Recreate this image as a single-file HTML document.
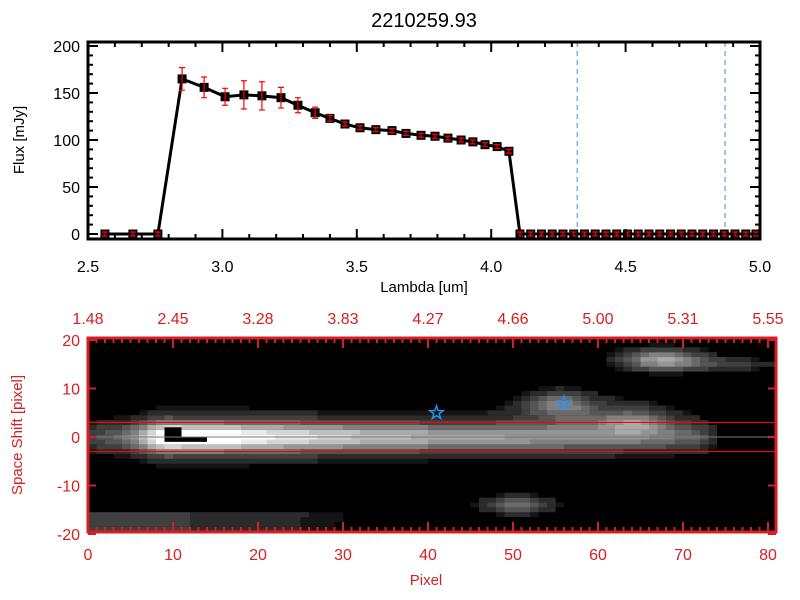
<!DOCTYPE html>
<html><head><meta charset="utf-8"><style>
html,body{margin:0;padding:0;background:#fff;width:800px;height:600px;overflow:hidden}
svg text{font-family:"Liberation Sans",sans-serif}
</style></head><body>
<svg id="c" width="800" height="600" xmlns="http://www.w3.org/2000/svg"></svg>
<script>
const lambdas=[2.563,2.667,2.760,2.850,2.932,3.010,3.080,3.147,3.218,3.281,3.345,3.400,3.456,3.512,3.571,3.631,3.683,3.739,3.791,3.839,3.888,3.932,3.977,4.022,4.066,
4.107,4.147,4.187,4.227,4.267,4.307,4.347,4.387,4.427,4.467,4.507,4.547,4.587,4.627,4.667,4.707,4.747,4.787,4.827,4.867,4.907,4.947,4.985];
const fluxes=[0,0,0,165,156,146,148,147,145,137,129,123,117,113,111,110,107,105,104,102,100,98,95,93,88,
0,0,0,0,0,0,0,0,0,0,0,0,0,0,0,0,0,0,0,0,0,0,0];
const errors=[0,0,0,12,11,9,15,15,11,8,6,3,2,2,2,2,2,2,2,2,2,2,2,2,2,0,0,0,0,0,0,0,0,0,0,0,0,0,0,0,0,0,0,0,0,0,0,0];
const xTicks=[2.5,3.0,3.5,4.0,4.5,5.0];
const xTickLabels=["2.5","3.0","3.5","4.0","4.5","5.0"];
const yTicks=[0,50,100,150,200];
const markLines=[4.32,4.87];
const pixTicks=[0,10,20,30,40,50,60,70,80];
const lamTopLabels=["1.48","2.45","3.28","3.83","4.27","4.66","5.00","5.31","5.55"];
const shiftTicks=[-20,-10,0,10,20];
const stars=[[41,5],[56,7]];
const blobs=[[50,-14,3,1.3,0.45],[67,16,3.5,1.6,0.62],[75,15,5,1,0.22],[55,7,2.5,1.8,0.38],[64,3,3,1.8,0.35],[58,5,6,2.5,0.18]];
const traceLevels=[[0,0.2],[5,0.4],[9,1.0],[14,0.95],[22,0.78],[35,0.6],[50,0.5],[62,0.42],[72,0.3],[75,0.0]];

const svg=document.getElementById('c');const NS='http://www.w3.org/2000/svg';
function mk(t,a,p){const e=document.createElementNS(NS,t);for(const k in a)e.setAttribute(k,a[k]);(p||svg).appendChild(e);return e;}
const L=88,R=760,T=42,B=239;
const X=v=>L+(v-2.5)/2.5*(R-L);
const Y=v=>234-v*0.94;
const title=mk('text',{x:424,y:27,'font-size':20,'text-anchor':'middle',fill:'#000'});title.textContent='2210259.93';


const topG=mk('g',{});


markLines.forEach(m=>{const l=mk('line',{x1:X(m),x2:X(m),y1:T,y2:B,stroke:'#3a8ee6','stroke-dasharray':'5,4','stroke-width':1},topG);

});
const zl=mk('line',{x1:X(4.107),x2:R,y1:Y(0),y2:Y(0),stroke:'#f00','stroke-dasharray':'6,4','stroke-width':1.5},topG);


const pts=lambdas.map((l,i)=>X(l)+','+Y(fluxes[i])).join(' ');
const pl=mk('polyline',{points:pts,fill:'none',stroke:'#000','stroke-width':3},topG);


lambdas.forEach((l,i)=>{const x=X(l),y=Y(fluxes[i]);
const r=mk('rect',{x:x-4.5,y:y-4.5,width:9,height:9,fill:'#000'},topG);


const e=errors[i]*0.94,eb=Math.max(e,2);
mk('path',{d:`M${x},${y-eb}V${y+eb}M${x-3},${y-eb}H${x+3}M${x-3},${y+eb}H${x+3}`,stroke:'#f00','stroke-width':1.2,fill:'none'},topG);});
mk('rect',{x:L,y:T,width:R-L,height:B-T,fill:'none',stroke:'#000','stroke-width':3},topG);
for(let i=0;i<=25;i++){const v=2.5+i*0.1;const x=X(v);const h=i%5==0?10:5;
mk('line',{x1:x,x2:x,y1:B,y2:B-h,stroke:'#000','stroke-width':2},topG);mk('line',{x1:x,x2:x,y1:T,y2:T+h,stroke:'#000','stroke-width':2},topG);}
for(let v=0;v<=200;v+=10){const y=Y(v);const h=v%50==0?10:5;
mk('line',{x1:L,x2:L+h,y1:y,y2:y,stroke:'#000','stroke-width':2},topG);mk('line',{x1:R,x2:R-h,y1:y,y2:y,stroke:'#000','stroke-width':2},topG);}
xTicks.forEach((v,i)=>{const t=mk('text',{x:X(v),y:272,'font-size':16,'text-anchor':'middle'},topG);t.textContent=xTickLabels[i];});
yTicks.forEach(v=>{const t=mk('text',{x:80,y:Y(v)+6,'font-size':16,'text-anchor':'end'},topG);t.textContent=v;});
const xl=mk('text',{x:424,y:292,'font-size':15,'text-anchor':'middle'},topG);xl.textContent='Lambda [um]';


const yl=mk('text',{x:24,y:140,'font-size':15,'text-anchor':'middle',transform:'rotate(-90 24 140)'},topG);yl.textContent='Flux [mJy]';



const L2=88,R2=776,T2=338,B2=532,RED='#d42020';
const PX=p=>L2+p*8.5, SY=s=>437-s*4.85;
const bot=mk('g',{});


mk('rect',{x:L2,y:T2,width:R2-L2,height:B2-T2,fill:'#000'},bot);
function traceAmp(p){for(let i=0;i<traceLevels.length-1;i++){const a=traceLevels[i],b=traceLevels[i+1];if(p>=a[0]&&p<=b[0])return a[1]+(b[1]-a[1])*(p-a[0])/(b[0]-a[0]);}return 0;}
const hm=mk('g',{},bot);


for(let p=0;p<81;p++)for(let s=-19;s<=20;s++){
 const ta=traceAmp(p+0.5);
 let v=ta*Math.exp(-(s*s)/(2*2.0*2.0))+0.22*ta*Math.exp(-(s*s)/(2*5*5));
 if(p<40&&s<=-16&&s>=-19)v+=0.28*(1-p/45);
 blobs.forEach(b=>{v+=b[4]*Math.exp(-((p-b[0])**2)/(2*b[2]*b[2])-((s-b[1])**2)/(2*b[3]*b[3]));});
 if(v<0.1)continue;v=Math.min(1,v);
 const g=Math.round(Math.round(v*12)/12*255);
 mk('rect',{x:PX(p),y:SY(s+0.5),width:8.6,height:4.95,fill:`rgb(${g},${g},${g})`},hm);}
[[9,-1,2,3],[11,-1,3,1]].forEach(r=>mk('rect',{x:PX(r[0]),y:SY(r[1]+r[3]),width:r[2]*8.5,height:r[3]*4.85,fill:'#000'},bot));
mk('line',{x1:L2,x2:R2,y1:SY(0),y2:SY(0),stroke:'#777','stroke-width':1},bot);
[3,-3].forEach(s=>{const l=mk('line',{x1:L2,x2:R2,y1:SY(s),y2:SY(s),stroke:'#f00','stroke-width':1.2},bot);

});
stars.forEach(st=>{const cx=PX(st[0]),cy=SY(st[1]);let d='';for(let k=0;k<10;k++){const r=k%2?2.8:7,a=-Math.PI/2+k*Math.PI/5;d+=(k?'L':'M')+(cx+r*Math.cos(a)).toFixed(1)+','+(cy+r*Math.sin(a)).toFixed(1);}
const e=mk('path',{d:d+'Z',fill:'none',stroke:'#2a8ff0','stroke-width':1.5},bot);

});
mk('rect',{x:L2,y:T2,width:R2-L2,height:B2-T2,fill:'none',stroke:RED,'stroke-width':3},bot);
for(let p=0;p<=81;p++){const x=PX(p);const h=p%10==0?10:5;
mk('line',{x1:x,x2:x,y1:B2,y2:B2-h,stroke:RED,'stroke-width':2},bot);mk('line',{x1:x,x2:x,y1:T2,y2:T2+h,stroke:RED,'stroke-width':2},bot);}
shiftTicks.forEach(s=>{const y=SY(s);mk('line',{x1:L2,x2:L2+8,y1:y,y2:y,stroke:RED,'stroke-width':2},bot);mk('line',{x1:R2,x2:R2-8,y1:y,y2:y,stroke:RED,'stroke-width':2},bot);
const t=mk('text',{x:80,y:y+6,'font-size':16,'text-anchor':'end',fill:RED},bot);t.textContent=s;});
pixTicks.forEach((p,i)=>{const t=mk('text',{x:PX(p),y:560,'font-size':16,'text-anchor':'middle',fill:RED},bot);t.textContent=p;
const t2=mk('text',{x:PX(p),y:324,'font-size':16,'text-anchor':'middle',fill:RED},bot);t2.textContent=lamTopLabels[i];});
const px=mk('text',{x:426,y:585,'font-size':15,'text-anchor':'middle',fill:RED},bot);px.textContent='Pixel';


const sl=mk('text',{x:22,y:435,'font-size':15,'text-anchor':'middle',fill:RED,transform:'rotate(-90 22 435)'},bot);sl.textContent='Space Shift [pixel]';


</script>
</body></html>
